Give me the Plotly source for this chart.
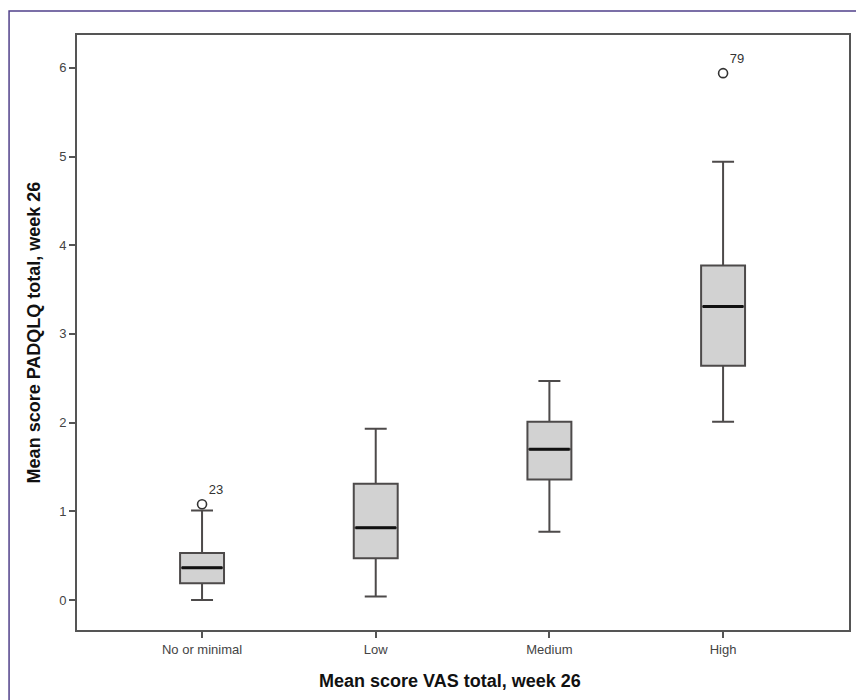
import plotly.graph_objects as go

categories = ["No or minimal", "Low", "Medium", "High"]
lower_whisker = [0.0, 0.04, 0.77, 2.01]
q1 = [0.19, 0.47, 1.36, 2.64]
median = [0.365, 0.815, 1.70, 3.31]
q3 = [0.53, 1.31, 2.01, 3.77]
upper_whisker = [1.01, 1.93, 2.47, 4.94]

outlier_cat = ["No or minimal", "High"]
outlier_val = [1.08, 5.94]
outlier_id = ["23", "79"]

y_ticks = [0, 1, 2, 3, 4, 5, 6]

positions = list(range(len(categories)))
box_w = 0.253
line_col = "#4d4a4a"
font_fam = "Liberation Sans, Arial, sans-serif"

fig = go.Figure()
fig.add_trace(go.Box(
    x=positions, q1=q1, median=median, q3=q3,
    lowerfence=lower_whisker, upperfence=upper_whisker,
    width=box_w, whiskerwidth=0.5,
    fillcolor="#d2d2d2", line=dict(color=line_col, width=2),
    boxpoints=False, showlegend=False, hoverinfo="skip",
))

# thicker black median lines
mx, my = [], []
for p, m in zip(positions, median):
    mx += [p - box_w / 2 + 0.01, p + box_w / 2 - 0.01, None]
    my += [m, m, None]
fig.add_trace(go.Scatter(x=mx, y=my, mode="lines",
                         line=dict(color="#111111", width=3),
                         showlegend=False, hoverinfo="skip"))

ox = [categories.index(c) for c in outlier_cat]
fig.add_trace(go.Scatter(
    x=ox, y=outlier_val, mode="markers+text", text=outlier_id,
    textposition="top right",
    textfont=dict(family=font_fam, size=13, color="#333333"),
    marker=dict(symbol="circle-open", size=9, color="#333333",
                line=dict(width=1.6, color="#333333")),
    showlegend=False, hoverinfo="skip",
))

fig.update_layout(
    width=864, height=700,
    margin=dict(l=69, r=23, t=27, b=78),
    paper_bgcolor="white", plot_bgcolor="white",
    font=dict(family=font_fam, color="#333333"),
    xaxis=dict(
        range=[-0.72, 3.725], tickvals=positions, ticktext=categories,
        showgrid=False, zeroline=False,
        showline=True, linecolor="#555555", linewidth=2, mirror=True,
        ticks="outside", ticklen=6, tickwidth=1.5, tickcolor="#555555",
        tickfont=dict(size=13, color="#444444"),
    ),
    yaxis=dict(
        range=[-0.338, 6.37], tickvals=y_ticks,
        showgrid=False, zeroline=False,
        showline=True, linecolor="#555555", linewidth=2, mirror=True,
        ticks="outside", ticklen=6, tickwidth=1.5, tickcolor="#555555",
        tickfont=dict(size=13, color="#444444"),
        title=dict(text="<b>Mean score PADQLQ total, week 26</b>",
                   font=dict(size=18, color="#111111"), standoff=14),
    ),
    annotations=[dict(text="<b>Mean score VAS total, week 26</b>",
                      xref="paper", yref="paper", x=0.483, y=-0.085,
                      xanchor="center", yanchor="middle", showarrow=False,
                      font=dict(size=18, color="#111111", family=font_fam))],
    shapes=[dict(type="rect", xref="paper", yref="paper",
                 x0=-0.088, x1=1.03, y0=-0.13, y1=1.0403,
                 line=dict(color="#50408a", width=1.5),
                 fillcolor="rgba(0,0,0,0)", layer="below")],
)

fig.write_html("out.html")
